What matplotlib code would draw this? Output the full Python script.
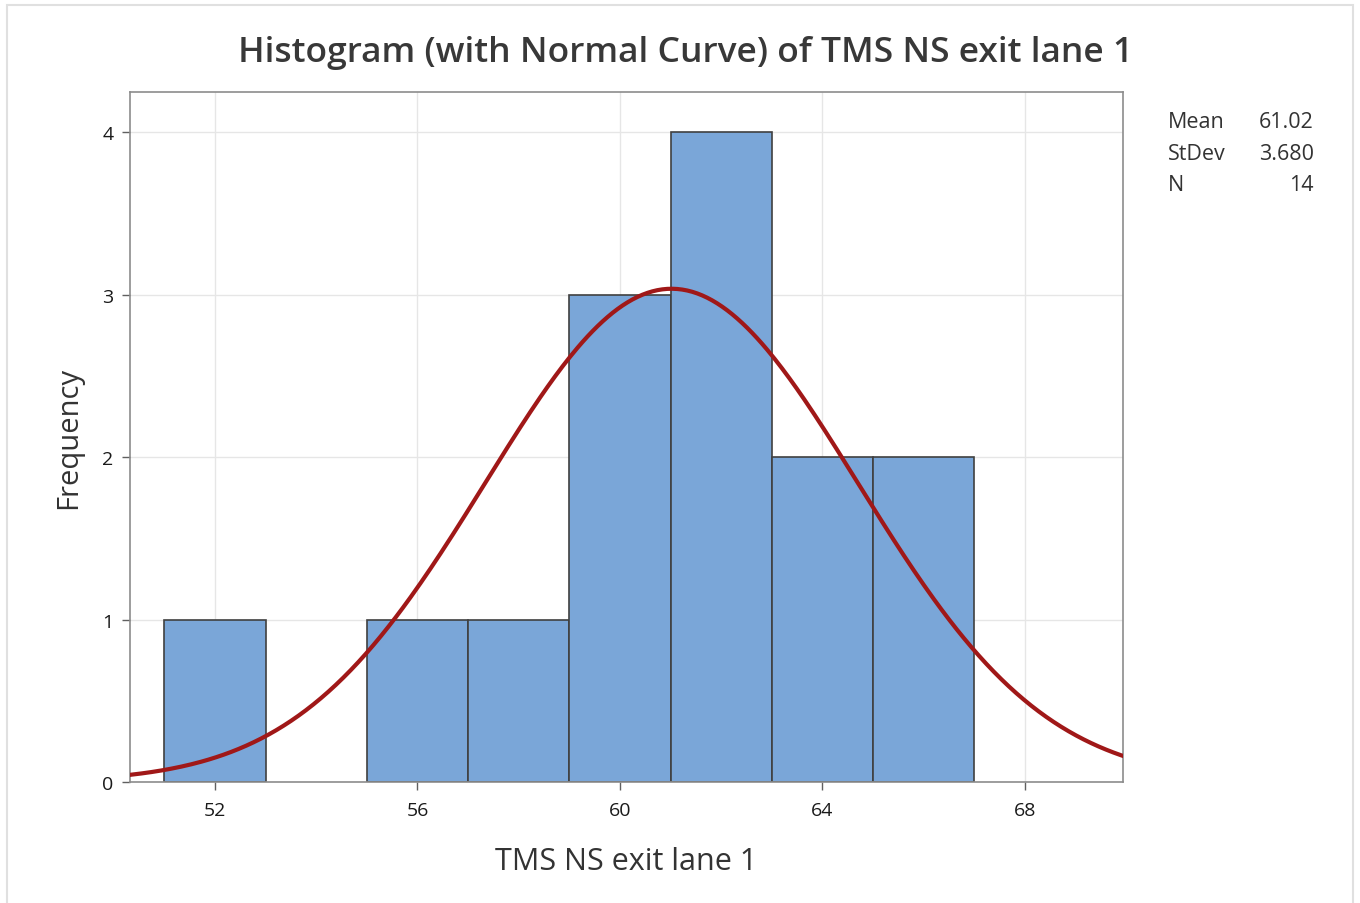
import numpy as np
import matplotlib
matplotlib.use("Agg")
import matplotlib.pyplot as plt
from matplotlib.patches import Rectangle

# Data
bin_centers = [52, 56, 58, 60, 62, 64, 66]
frequencies = [1, 1, 1, 3, 4, 2, 2]
bin_width = 2
mean_val = 61.02
std_val = 3.680
n_obs = 14
x_ticks = [52, 56, 60, 64, 68]
y_ticks = [0, 1, 2, 3, 4]
stat_labels = ["Mean", "StDev", "N"]
stat_values = ["61.02", "3.680", "14"]

plt.rcParams['font.family'] = ['Open Sans', 'DejaVu Sans']

fig = plt.figure(figsize=(13.6, 9.04), dpi=100)
fig.patch.set_facecolor("white")
fig.add_artist(Rectangle((0.005, -0.01), 0.99, 1.003, transform=fig.transFigure,
                         fill=False, edgecolor="#e0e0e0", lw=1.5))

ax = fig.add_axes([0.0956, 0.1338, 0.8257 - 0.0956, 0.8971 - 0.1338])
ax.set_axisbelow(True)
ax.grid(True, color="#e6e6e6", lw=1.0)
ax.bar(bin_centers, frequencies, width=bin_width, color="#7aa6d8",
       edgecolor="#404040", linewidth=1.2, zorder=2)

xs = np.linspace(50.3, 69.95, 400)
ys = n_obs * bin_width * np.exp(-0.5 * ((xs - mean_val) / std_val) ** 2) / (std_val * np.sqrt(2 * np.pi))
ax.plot(xs, ys, color="#a01818", lw=3, zorder=3)

ax.set_xlim(50.32, 69.94)
ax.set_ylim(0, 4.246)
ax.set_xticks(x_ticks)
ax.set_yticks(y_ticks)
ax.tick_params(axis="both", labelsize=14, length=6, color="#606060", labelcolor="#1a1a1a", width=1)
ax.tick_params(axis="x", pad=8)
ax.tick_params(axis="y", pad=6)
for s in ax.spines.values():
    s.set_color("#8c8c8c")
    s.set_linewidth(1.2)

ax.set_xlabel("TMS NS exit lane 1", fontsize=22, color="#333333", labelpad=19)
ax.set_ylabel("Frequency", fontsize=21, color="#333333", labelpad=14)
fig.text(0.504, 0.941, "Histogram (with Normal Curve) of TMS NS exit lane 1",
         fontsize=25.5, fontweight="semibold", color="#383838", ha="center", va="center")

for i, (lab, val) in enumerate(zip(stat_labels, stat_values)):
    yy = 1 - (122 + 32 * i) / 904
    fig.text(1168 / 1360, yy, lab, fontsize=15.5, color="#333333", ha="left", va="center")
    fig.text(1314 / 1360, yy, val, fontsize=15.5, color="#333333", ha="right", va="center")

fig.savefig("out.png", dpi=100)
